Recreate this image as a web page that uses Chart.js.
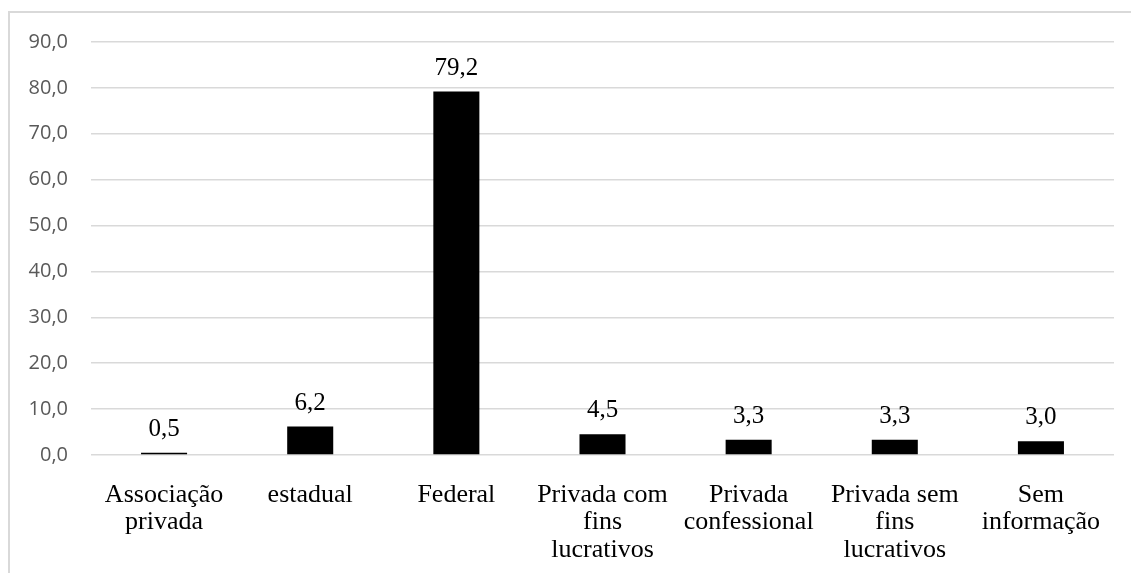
<!DOCTYPE html>
<html>
<head>
<meta charset="utf-8">
<script src="https://cdn.jsdelivr.net/npm/chart.js@4.4.0/dist/chart.umd.min.js"></script>
<style>
  html, body { margin: 0; padding: 0; background: #fff; }
  #wrap { position: relative; width: 1131px; height: 573px; overflow: hidden; }
  #frame { position: absolute; left: 8px; top: 11px; right: -4px; bottom: -4px;
           border-left: 2px solid #d9d9d9; border-top: 2px solid #d9d9d9; }
  #chartCanvas { position: absolute; left: 0; top: 0; }
</style>
</head>
<body>
<div id="wrap">
  <div id="frame"></div>
  <canvas id="chartCanvas" width="1131" height="573"></canvas>
</div>
<script>
// --- Data ---
const categories = [
  ["Associação", "privada"],
  "estadual",
  "Federal",
  ["Privada com", "fins", "lucrativos"],
  ["Privada", "confessional"],
  ["Privada sem", "fins", "lucrativos"],
  ["Sem", "informação"]
];
const values = [0.5, 6.2, 79.2, 4.5, 3.3, 3.3, 3.0];
const yTicks = [0, 10, 20, 30, 40, 50, 60, 70, 80, 90];

const fmt = v => v.toFixed(1).replace(".", ",");

// --- Value labels above bars ---
const barLabels = {
  id: "barLabels",
  afterDatasetsDraw(chart) {
    const ctx = chart.ctx;
    const meta = chart.getDatasetMeta(0);
    ctx.save();
    ctx.font = "25px 'Liberation Serif', 'Times New Roman', serif";
    ctx.fillStyle = "#000";
    ctx.textAlign = "center";
    ctx.textBaseline = "alphabetic";
    meta.data.forEach((bar, i) => {
      ctx.fillText(fmt(values[i]), bar.x, bar.y - 17);
    });
    ctx.restore();
  }
};

const ctx = document.getElementById("chartCanvas").getContext("2d");
new Chart(ctx, {
  type: "bar",
  data: {
    labels: categories,
    datasets: [{
      data: values,
      backgroundColor: "#000",
      borderWidth: 0,
      barPercentage: 0.63,
      categoryPercentage: 0.5
    }]
  },
  options: {
    responsive: false,
    animation: false,
    layout: { padding: { left: 0, right: 17, top: 42, bottom: 0 } },
    plugins: { legend: { display: false }, tooltip: { enabled: false } },
    scales: {
      x: {
        grid: { display: false },
        border: { display: false },
        ticks: {
          color: "#000",
          padding: 18,
          maxRotation: 0,
          autoSkip: false,
          font: { family: "'Liberation Serif', 'Times New Roman', serif", size: 26, lineHeight: 1.06 }
        },
        afterFit(scale) { scale.height = 118; }
      },
      y: {
        min: 0,
        max: 90,
        afterBuildTicks(scale) { scale.ticks = yTicks.map(v => ({ value: v })); },
        grid: { color: "#d9d9d9", lineWidth: 1.5, drawTicks: false },
        border: { display: false },
        ticks: {
          color: "#595959",
          padding: 23,
          callback: v => fmt(v),
          font: { family: "'Open Sans', sans-serif", size: 20 }
        },
        afterFit(scale) { scale.width = 91; }
      }
    }
  },
  plugins: [barLabels]
});
</script>
</body>
</html>
